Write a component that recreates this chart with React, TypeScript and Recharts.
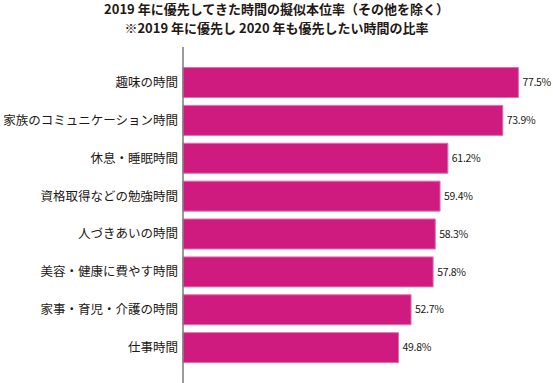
import { BarChart, Bar, XAxis, YAxis, LabelList } from 'recharts';

const categories = [
  '趣味の時間',
  '家族のコミュニケーション時間',
  '休息・睡眠時間',
  '資格取得などの勉強時間',
  '人づきあいの時間',
  '美容・健康に費やす時間',
  '家事・育児・介護の時間',
  '仕事時間',
];
const values = [77.5, 73.9, 61.2, 59.4, 58.3, 57.8, 52.7, 49.8];
const titleLines = [
  '2019 年に優先してきた時間の擬似本位率（その他を除く）',
  '※2019 年に優先し 2020 年も優先したい時間の比率',
];

const data = categories.map((name, i) => ({ name, value: values[i] }));

const font = '"Noto Sans CJK JP", "Noto Sans", sans-serif';

export default function App() {
  return (
    <div style={{ position: 'absolute', left: 0, top: 0, width: 553, height: 383, background: '#fff', fontFamily: font }}>
      <div
        style={{
          position: 'absolute',
          left: 0,
          top: -1,
          width: 553,
          textAlign: 'center',
          fontSize: 13,
          fontWeight: 700,
          lineHeight: '19px',
          color: '#231815',
        }}
      >
        {titleLines.map((t) => (
          <div key={t}>{t}</div>
        ))}
      </div>
      <BarChart
        width={553}
        height={383}
        data={data}
        layout="vertical"
        margin={{ top: 47, right: 0, bottom: 0, left: 0 }}
        barCategoryGap={0}
      >
        <XAxis type="number" domain={[0, 85.5]} hide />
        <YAxis
          type="category"
          dataKey="name"
          width={183}
          tickLine={false}
          tickSize={0}
          tickMargin={5}
          padding={{ top: 16.5, bottom: 16.5 }}
          axisLine={{ stroke: '#7a7a7a', strokeWidth: 1.5 }}
          tick={{ fill: '#231815', fontSize: 12.5, fontFamily: font }}
          interval={0}
        />
        <Bar dataKey="value" fill="#cf1a80" stroke="#e46fb0" strokeWidth={1} barSize={30} isAnimationActive={false}>
          <LabelList
            dataKey="value"
            position="right"
            offset={4}
            formatter={(v: number) => `${v.toFixed(1)}%`}
            style={{ fill: '#231815', fontSize: 10.5, letterSpacing: -0.3, fontFamily: font }}
          />
        </Bar>
      </BarChart>
    </div>
  );
}
